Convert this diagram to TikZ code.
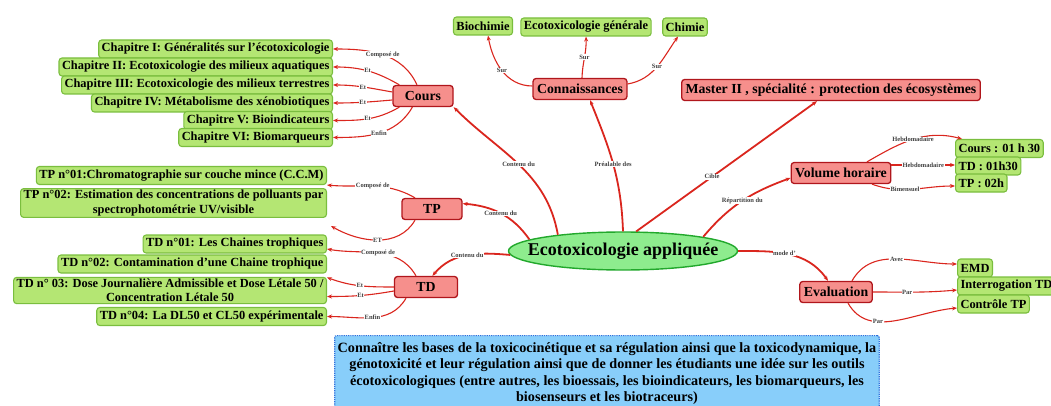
\documentclass[tikz,border=0pt]{standalone}
\usepackage{fontspec}
\setmainfont{Liberation Serif}
\usepackage{tikz}
\usetikzlibrary{shapes.geometric,arrows.meta}

\definecolor{linkred}{RGB}{218,38,30}
\definecolor{topicfill}{RGB}{246,143,140}
\definecolor{topicdraw}{RGB}{176,22,28}
\definecolor{leaffill}{RGB}{180,230,115}
\definecolor{leafdraw}{RGB}{122,190,62}
\definecolor{corefill}{RGB}{142,236,142}
\definecolor{coredraw}{RGB}{34,168,44}
\definecolor{notefill}{RGB}{136,206,250}
\definecolor{notedraw}{RGB}{44,112,220}

\tikzset{
  topic/.style={draw=topicdraw,fill=topicfill,line width=1.3pt,rounded corners=3pt,
    minimum height=21pt,minimum width=60pt,inner xsep=4pt,inner ysep=2pt,
    font=\bfseries\fontsize{13.8}{15}\selectfont},
  leaf/.style={draw=leafdraw,fill=leaffill,line width=1.1pt,rounded corners=3pt,
    minimum height=18pt,inner xsep=3pt,inner ysep=1.5pt,align=center,
    font=\bfseries\fontsize{12.4}{14.5}\selectfont},
  core/.style={ellipse,draw=coredraw,fill=corefill,line width=1.4pt,inner sep=0pt,
    minimum width=229pt,minimum height=38pt,font=\bfseries\fontsize{18}{20}\selectfont},
  link/.style={draw=linkred,line width=1.1pt,-{Stealth[length=5pt,width=4pt]}},
  spoke/.style={link,line width=1.8pt},
  lbl/.style={fill=white,inner sep=0.6pt,text=black!75,
    font=\bfseries\fontsize{6.5}{7}\selectfont},
}

\begin{document}
\begin{tikzpicture}[x=1pt,y=1pt] %
    \useasboundingbox (0,0) rectangle (1051,-406);
    % centre
    \node[core] (eco) at (623,-251) {\makebox[160pt]{Ecotoxicologie appliquée}}; %
    % cours
    \node[topic] (cours) at (423,-96) {Cours}; %
    \node[leaf,anchor=east] (ch1) at (333,-49) {Chapitre I: Généralités sur l’écotoxicologie}; %
    \node[leaf,anchor=east] (ch2) at (333,-67) {Chapitre II: Ecotoxicologie des milieux aquatiques}; %
    \node[leaf,anchor=east] (ch3) at (333,-85) {Chapitre III: Ecotoxicologie des milieux terrestres}; %
    \node[leaf,anchor=east] (ch4) at (333,-103) {Chapitre IV: Métabolisme des xénobiotiques}; %
    \node[leaf,anchor=east] (ch5) at (333,-120.5) {Chapitre V: Bioindicateurs}; %
    \node[leaf,anchor=east] (ch6) at (333,-137.5) {Chapitre VI: Biomarqueurs}; %
    % connaissances
    \node[topic] (conn) at (580,-89) {Connaissances}; %
    \node[leaf] (bio) at (483,-26) {Biochimie}; %
    \node[leaf] (ecogen) at (586,-27) {Ecotoxicologie générale}; %
    \node[leaf] (chim) at (685,-27) {Chimie}; %
    % master, volume horaire
    \node[topic] (master) at (831,-90) {Master II , spécialité : protection des écosystèmes}; %
    \node[topic] (vol) at (841,-173) {Volume horaire}; %
    \node[leaf,anchor=west] (h1) at (955,-148.5) {Cours : 01 h 30}; %
    \node[leaf,anchor=west] (h2) at (955,-166) {TD : 01h30}; %
    \node[leaf,anchor=west] (h3) at (955,-183) {TP : 02h}; %
    % evaluation
    \node[topic] (eval) at (836,-292) {Evaluation}; %
    \node[leaf,anchor=west] (emd) at (957,-268) {EMD}; %
    \node[leaf,anchor=west] (interro) at (957,-286) {Interrogation TD}; %
    \node[leaf,anchor=west] (ctp) at (957,-304) {Contrôle TP}; %
    % tp
    \node[topic] (tp) at (432,-209) {TP}; %
    \node[leaf,anchor=east] (tp1) at (327,-175.5) {TP n°01:Chromatographie sur couche mince (C.C.M)}; %
    \node[leaf,anchor=east] (tp2) at (327,-203) {TP n°02: Estimation des concentrations de polluants par\\ spectrophotométrie UV/visible}; %
    \coordinate (tp2tip) at (331,-226);
    % td
    \node[topic,minimum width=63pt] (td) at (426,-287) {TD}; %
    \node[leaf,anchor=east] (td1) at (327,-244) {TD n°01: Les Chaines trophiques}; %
    \node[leaf,anchor=east] (td2) at (327,-264) {TD n°02: Contamination d’une Chaine trophique}; %
    \node[leaf,anchor=east] (td3) at (327,-290.5) {TD n° 03: Dose Journalière Admissible et Dose Létale 50 /\\ Concentration Létale 50}; %
    \node[leaf,anchor=east] (td4) at (327,-316.5) {TD n°04: La DL50 et CL50 expérimentale}; %
    % objectif
    \node[draw=notedraw,fill=notefill,densely dotted,line width=1.2pt,rounded corners=2pt,
      anchor=north,align=center,inner xsep=3pt,inner ysep=3pt,minimum height=76pt,
      font=\bfseries\fontsize{14.2}{16.5}\selectfont] (goal) at (607,-335)
      {Connaître les bases de la toxicocinétique et sa régulation ainsi que la toxicodynamique, la\\
       génotoxicité et leur régulation ainsi que de donner les étudiants une idée sur les outils\\
       écotoxicologiques (entre autres, les bioessais, les bioindicateurs, les biomarqueurs, les\\
       biosenseurs et les biotraceurs)}; %

    % spokes from the centre
    \draw[spoke] (eco.166) to[out=100,in=-45] node[lbl]{Contenu du} (cours.south east); %
    \draw[spoke] (eco.90) to[out=92,in=-68] node[lbl]{Préalable des} ([xshift=10pt]conn.south); %
    \draw[spoke] (eco.56) -- node[lbl,pos=.42]{Cible} ([xshift=-14pt]master.south); %
    \draw[spoke] (eco.10) to[out=50,in=200] node[lbl]{Répartition du} ([yshift=-5pt]vol.west); %
    \draw[spoke] (eco.0) to[out=0,in=125] node[lbl,pos=.45]{mode d’} ([xshift=-8pt]eval.north); %
    \draw[spoke] (eco.173) to[out=125,in=-5] node[lbl]{Contenu du} (tp.10); %
    \draw[spoke] (eco.182) to[out=175,in=50] node[lbl]{Contenu du} (td.60); %

    % cours
    \draw[link] ([xshift=-6pt]cours.north) to[out=115,in=0] node[lbl]{Composé de} (ch1.east); %
    \draw[link] ([xshift=7pt]cours.north west) to[out=150,in=0] node[lbl]{Et} (ch2.east); %
    \draw[link] ([yshift=4pt]cours.west) to[out=170,in=0] node[lbl]{Et} (ch3.east); %
    \draw[link] ([yshift=-4pt]cours.west) to[out=185,in=0] node[lbl]{Et} (ch4.east); %
    \draw[link] ([xshift=7pt]cours.south west) to[out=210,in=0] node[lbl]{Et} (ch5.east); %
    \draw[link] ([xshift=20pt]cours.south west) to[out=240,in=0] node[lbl]{Enfin} (ch6.east); %

    % connaissances
    \draw[link] ([yshift=3pt]conn.west) to[out=180,in=-80] node[lbl]{Sur} ([xshift=5pt]bio.south); %
    \draw[link] ([xshift=2pt]conn.north) to[out=88,in=-88] node[lbl]{Sur} (ecogen.south); %
    \draw[link] ([yshift=5pt]conn.east) to[out=10,in=-125] node[lbl]{Sur} ([xshift=-7pt]chim.south); %

    % volume horaire
    \draw[link] ([xshift=26pt]vol.north) to[out=30,in=165] node[lbl]{Hebdomadaire} ([xshift=7pt]h1.north west); %
    \draw[link] ([yshift=8pt]vol.east) -- node[lbl]{Hebdomadaire} ([yshift=1pt]h2.west); %
    \draw[link] ([xshift=31pt]vol.south) to[out=-20,in=180] node[lbl,pos=.4]{Bimensuel} ([yshift=-3pt]h3.west); %

    % evaluation
    \draw[link] ([xshift=16pt]eval.north) to[out=60,in=180] node[lbl]{Avec} ([yshift=4pt]emd.west); %
    \draw[link] (eval.east) to[out=0,in=185] node[lbl,pos=.4]{Par} ([yshift=-4pt]interro.west); %
    \draw[link] ([xshift=12pt]eval.south) to[out=-60,in=185] node[lbl,pos=.35]{Par} ([yshift=-4pt]ctp.west); %

    % tp
    \draw[link] ([xshift=-17pt]tp.north) to[out=150,in=-5] node[lbl]{Composé de} (tp1.south east); %
    \draw[link] ([xshift=-17pt]tp.south) to[out=240,in=-30] node[lbl]{ET} (tp2tip); %

    % td
    \draw[link] ([xshift=-10pt]td.north) to[out=120,in=-10] node[lbl]{Composé de} ([yshift=-5pt]td1.east); %
    \draw[link] (td.west) to[out=180,in=-20] node[lbl]{Et} ([yshift=13pt]td3.east); %
    \draw[link] ([yshift=-4pt]td.west) to[out=190,in=0] node[lbl]{Et} ([yshift=-6pt]td3.east); %
    \draw[link] ([xshift=-20pt]td.south) to[out=240,in=0] node[lbl]{Enfin} (td4.east); %
  \end{tikzpicture}
\end{document}
